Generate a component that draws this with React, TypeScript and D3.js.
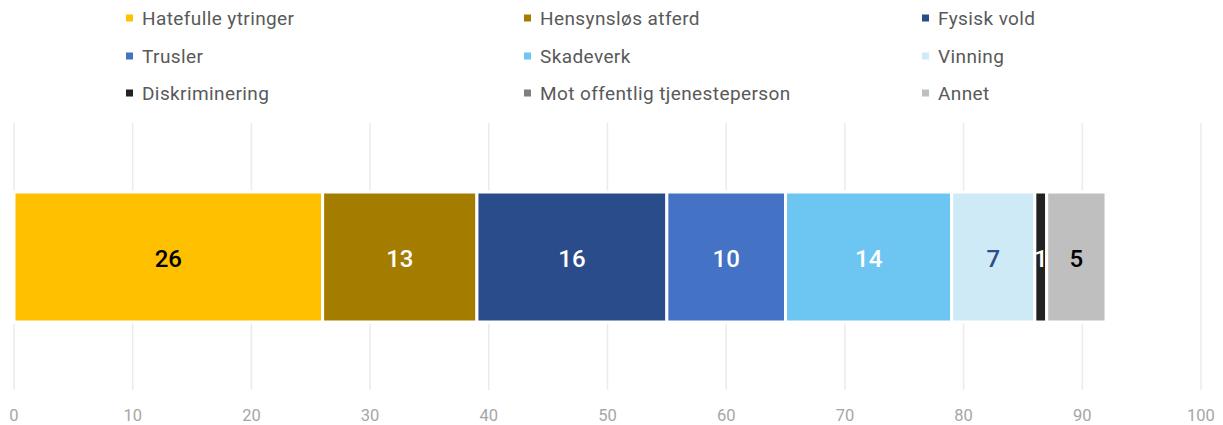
import React from 'react'
import * as d3 from 'd3'

// categories and values
const categories = [
  'Hatefulle ytringer',
  'Hensynsløs atferd',
  'Fysisk vold',
  'Trusler',
  'Skadeverk',
  'Vinning',
  'Diskriminering',
  'Mot offentlig tjenesteperson',
  'Annet',
]
const values = [26, 13, 16, 10, 14, 7, 1, 0, 5]
const colors = ['#ffc000', '#a47c00', '#2b4c8a', '#4472c4', '#6dc6f2', '#cfeaf7', '#222222', '#7f7f7f', '#bfbfbf']
const labelColors = ['#000', '#fff', '#fff', '#fff', '#fff', '#2b4c8a', '#fff', '#fff', '#000']
const ticks = [0, 10, 20, 30, 40, 50, 60, 70, 80, 90, 100]

const W = 1223
const H = 425
const font = 'Roboto, sans-serif'

export default function App() {
  const x = d3.scaleLinear().domain([0, 100]).range([14, 1201])

  let acc = 0
  const segs = values.map((v, i) => {
    const s = { start: acc, end: acc + v, v, i }
    acc += v
    return s
  })

  const legendX = [126, 524, 922]
  const legendY = [19.5, 57.5, 94.5]

  return (
    <svg width={W} height={H} style={{ position: 'absolute', left: 0, top: 0 }}>
      {/* grid */}
      {ticks.map((t) => (
        <g key={t}>
          <line x1={x(t)} x2={x(t)} y1={123} y2={390} stroke="#ebebeb" strokeWidth={1.5} />
          <text x={x(t)} y={417} textAnchor="middle" dominantBaseline="middle" fontFamily={font} fontSize={16.5} fill="#a6a6a6">
            {t}
          </text>
        </g>
      ))}

      {/* bar segments */}
      {segs.filter((s) => s.v > 0).map((s) => (
        <g key={s.i}>
          <rect
            x={x(s.start)}
            y={192}
            width={x(s.end) - x(s.start)}
            height={130}
            fill={colors[s.i]}
            stroke="#fff"
            strokeWidth={3}
          />
          <text
            x={(x(s.start) + x(s.end)) / 2}
            y={261}
            textAnchor="middle"
            dominantBaseline="middle"
            fontFamily={font}
            fontWeight={500}
            fontSize={24}
            fill={labelColors[s.i]}
          >
            {s.v}
          </text>
        </g>
      ))}

      {/* legend */}
      {categories.map((c, i) => {
        const lx = legendX[i % 3]
        const ly = legendY[Math.floor(i / 3)]
        return (
          <g key={c}>
            <rect x={lx} y={ly - 5} width={7} height={7} fill={colors[i]} />
            <text x={lx + 16} y={ly} dominantBaseline="middle" fontFamily={font} fontSize={19} letterSpacing={0.4} fill="#595959">
              {c}
            </text>
          </g>
        )
      })}
    </svg>
  )
}
